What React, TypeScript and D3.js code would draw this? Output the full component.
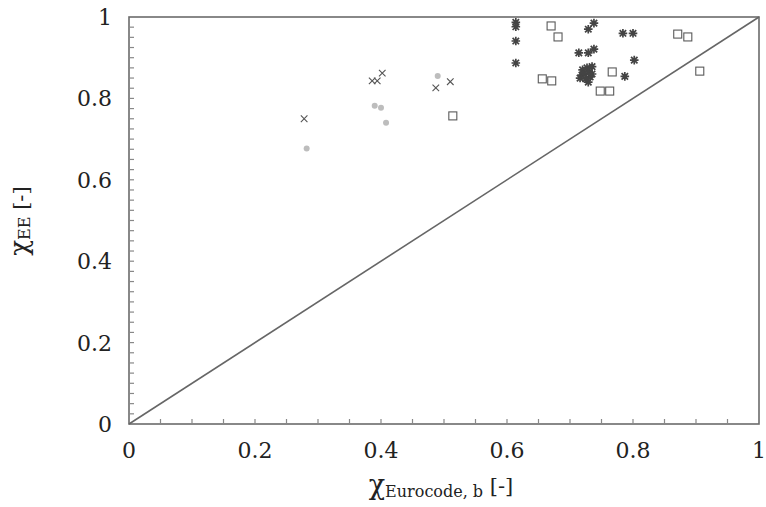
import * as d3 from 'd3';

// data
const crossX = [0.278, 0.386, 0.394, 0.402, 0.487, 0.51];
const crossY = [0.75, 0.843, 0.843, 0.862, 0.826, 0.841];

const dotX = [0.282, 0.39, 0.4, 0.408, 0.49];
const dotY = [0.677, 0.782, 0.777, 0.74, 0.855];

const squareX = [0.514, 0.67, 0.681, 0.656, 0.671, 0.748, 0.763, 0.767, 0.871, 0.887, 0.906];
const squareY = [0.757, 0.978, 0.951, 0.848, 0.843, 0.818, 0.818, 0.865, 0.958, 0.951, 0.867];

const starX = [0.614, 0.614, 0.614, 0.614, 0.738, 0.729, 0.714, 0.729, 0.738, 0.784, 0.8, 0.802, 0.787,
  0.72, 0.719, 0.727, 0.735, 0.732, 0.729, 0.716, 0.722, 0.73, 0.725, 0.735];
const starY = [0.987, 0.976, 0.941, 0.887, 0.985, 0.97, 0.912, 0.912, 0.921, 0.96, 0.96, 0.894, 0.854,
  0.87, 0.857, 0.875, 0.878, 0.853, 0.84, 0.85, 0.862, 0.865, 0.848, 0.86];

const tickLabels = ['0', '0.2', '0.4', '0.6', '0.8', '1'];

const width = 766;
const height = 507;
const margin = { top: 17, right: 7, bottom: 83, left: 129 };
const innerW = width - margin.left - margin.right;
const innerH = height - margin.top - margin.bottom;
const font = 'DejaVu Serif';

export default function App() {
  const x = d3.scaleLinear().domain([0, 1]).range([0, innerW]);
  const y = d3.scaleLinear().domain([0, 1]).range([innerH, 0]);
  const diag = d3.line<number>().x(d => x(d)).y(d => y(d))([0, 1]) || '';
  const cross = d3.symbol().type(d3.symbolTimes).size(30)() || '';
  const r = 4.3;
  const k = r * 0.75;
  const star = `M${-r},0L${r},0M0,${-r}L0,${r}M${-k},${-k}L${k},${k}M${-k},${k}L${k},${-k}`;
  const xMinor = d3.range(1, 20).map(i => i * 0.05);
  const yMinor = d3.range(1, 40).map(i => i * 0.025);

  return (
    <div style={{ position: 'absolute', left: 0, top: 0, width, height, background: '#fff' }}>
      <svg width={width} height={height} fontFamily={font}>
        <g transform={`translate(${margin.left},${margin.top})`}>
          <rect width={innerW} height={innerH} fill="none" stroke="#6b6b6b" strokeWidth={1.6} />
          <g stroke="#888" strokeWidth={1.2}>
            {xMinor.map(d => (
              <line key={'xt' + d} x1={x(d)} x2={x(d)} y1={innerH} y2={innerH - 5} />
            ))}
            {yMinor.map(d => (
              <line key={'yt' + d} x1={0} x2={5} y1={y(d)} y2={y(d)} />
            ))}
          </g>
          {tickLabels.map(t => (
            <text key={'xl' + t} x={x(+t)} y={innerH + 34} textAnchor="middle" fontSize={22} fill="#222">{t}</text>
          ))}
          {tickLabels.map(t => (
            <text key={'yl' + t} x={-17} y={y(+t) + 8} textAnchor="end" fontSize={22} fill="#222">{t}</text>
          ))}
          <path d={diag} fill="none" stroke="#666" strokeWidth={1.6} />
          {crossX.map((v, i) => (
            <path key={'c' + i} transform={`translate(${x(v)},${y(crossY[i])})`} d={cross} fill="none" stroke="#555" strokeWidth={1.1} />
          ))}
          {dotX.map((v, i) => (
            <circle key={'d' + i} cx={x(v)} cy={y(dotY[i])} r={3} fill="#bdbdbd" />
          ))}
          {squareX.map((v, i) => (
            <rect key={'s' + i} x={x(v) - 4} y={y(squareY[i]) - 4} width={8} height={8} fill="none" stroke="#5a5a5a" strokeWidth={1.1} />
          ))}
          {starX.map((v, i) => (
            <path key={'a' + i} transform={`translate(${x(v)},${y(starY[i])})`} d={star} fill="none" stroke="#444" strokeWidth={1.7} />
          ))}
        </g>
        <text x={441} y={494} textAnchor="middle" fill="#222">
          <tspan fontSize={27}>χ</tspan>
          <tspan fontSize={16} dy={3}>Eurocode, b</tspan>
          <tspan fontSize={21} dy={-4}> [-]</tspan>
        </text>
        <text transform={`translate(28,221) rotate(-90)`} textAnchor="middle" fill="#222">
          <tspan fontSize={26}>χ</tspan>
          <tspan fontSize={16} dy={2}>EE</tspan>
          <tspan fontSize={21} dy={-2}> [-]</tspan>
        </text>
      </svg>
    </div>
  );
}
